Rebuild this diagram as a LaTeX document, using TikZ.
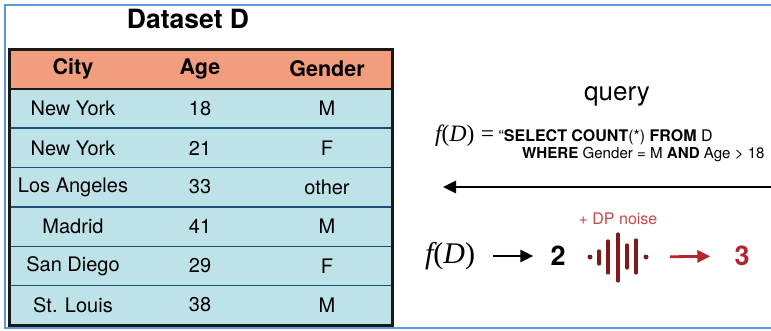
\documentclass[tikz,border=0pt]{standalone}
\usepackage{fontspec}
\setmainfont{TeX Gyre Heros}
\newfontfamily\timesf{Liberation Serif}
\usetikzlibrary{arrows.meta}
\definecolor{salmon}{HTML}{F29D7E}
\definecolor{rowblue}{HTML}{BDE2E8}
\definecolor{sepblue}{HTML}{1B4F7A}
\definecolor{pageblue}{HTML}{5B9BD5}
\definecolor{noisered}{HTML}{7E1A1A}
\definecolor{dpred}{HTML}{C24A4A}
\definecolor{outred}{HTML}{B5262B}
\tikzset{
  cell/.style={font=\fontsize{20}{22}\selectfont, inner sep=0pt},
  headcell/.style={font=\fontsize{21.5}{24}\selectfont\bfseries, inner sep=0pt},
  bigarrow/.style={line width=2.8pt, -{Triangle[length=13pt,width=12pt]}},
  noisebar/.style={noisered, line width=3.2pt, line cap=round},
}
\newcommand{\fD}{{\timesf\itshape f}{\timesf(}{\timesf\itshape D}{\timesf)}}
\begin{document}
\begin{tikzpicture}[x=1pt,y=-1pt]
\useasboundingbox (0,0) rectangle (771,330);
% page frame
\draw[pageblue, line width=1.5pt] (790,5) -- (5,5) -- (5,328) -- (790,328);
% title
\node[font=\fontsize{26.5}{28}\selectfont\bfseries] (title) at (188,19) {Dataset D};
% table fills
\fill[salmon] (9,49) rectangle (392,89);
\fill[rowblue] (9,89) rectangle (392,325);
\foreach \y in {128,167.5,207,246.5,285.5}
  \draw[sepblue, line width=1.6pt] (9,\y) -- (392,\y);
\draw[black!90, line width=1.6pt] (9,89) -- (392,89);
\draw[black!90, line width=3pt] (9,49) rectangle (392,325);
% header
\node[headcell] (hcity) at (73,69) {City};
\node[headcell] (hage) at (200,69) {Age};
\node[headcell] (hgender) at (327,69) {Gender};
% rows
\node[cell] (c1) at (73,108.5) {New York};
\node[cell] (a1) at (200,108.5) {18};
\node[cell] (g1) at (327,108.5) {M};
\node[cell] (c2) at (73,148) {New York};
\node[cell] (a2) at (200,148) {21};
\node[cell] (g2) at (327,148) {F};
\node[cell] (c3) at (73,187) {Los Angeles};
\node[cell] (a3) at (200,187) {33};
\node[cell] (g3) at (327,187) {other};
\node[cell] (c4) at (73,226.5) {Madrid};
\node[cell] (a4) at (200,226.5) {41};
\node[cell] (g4) at (327,226.5) {M};
\node[cell] (c5) at (73,266) {San Diego};
\node[cell] (a5) at (200,266) {29};
\node[cell] (g5) at (327,266) {F};
\node[cell] (c6) at (73,305) {St. Louis};
\node[cell] (a6) at (200,305) {38};
\node[cell] (g6) at (327,305) {M};
% query
\node[font=\fontsize{26}{28}\selectfont] (query) at (617,96) {query};
\node[anchor=base west, inner sep=0pt, font=\fontsize{16}{17}\selectfont] (q1) at (435,141)
  {{\fontsize{23.5}{25}\selectfont\fD\ {\timesf=}} “\textbf{SELECT COUNT}(*) \textbf{FROM} D};
\node[anchor=base west, inner sep=0pt, font=\fontsize{15.1}{17}\selectfont] (q2) at (522,158)
  {\textbf{WHERE} Gender = M \textbf{AND} Age > 18};
\coordinate (qs) at (771,187);
\coordinate (qe) at (443,187);
\draw[bigarrow] (qs) -- (qe);
% result row
\node[inner sep=0pt, font=\fontsize{30}{32}\selectfont] (fd) at (450,256) {\fD};
\node[inner sep=0pt, font=\fontsize{27}{29}\selectfont\bfseries] (two) at (558,256) {2};
\node[inner sep=0pt, minimum width=60pt, minimum height=50pt] (noise) at (618,257) {};
\node[inner sep=0pt, font=\fontsize{27}{29}\selectfont\bfseries, text=outred] (three) at (742,256) {3};
\node[font=\fontsize{16}{18}\selectfont, text=dpred] (dp) at (618,219) {+ DP noise};
\draw[bigarrow, shorten <=18pt, shorten >=17pt] (fd.east) -- (two.west);
\draw[bigarrow, outred, shorten <=22pt, shorten >=24pt] (noise.east) -- (three.west);
% noise icon
\fill[noisered] (590,257) circle (2.5pt);
\fill[noisered] (646,257) circle (2.5pt);
\draw[noisebar] (599,251) -- (599,264);
\draw[noisebar] (608,241) -- (608,273);
\draw[noisebar] (618,234) -- (618,281);
\draw[noisebar] (627,245) -- (627,268);
\draw[noisebar] (636,240) -- (636,273);
\end{tikzpicture}
\end{document}
